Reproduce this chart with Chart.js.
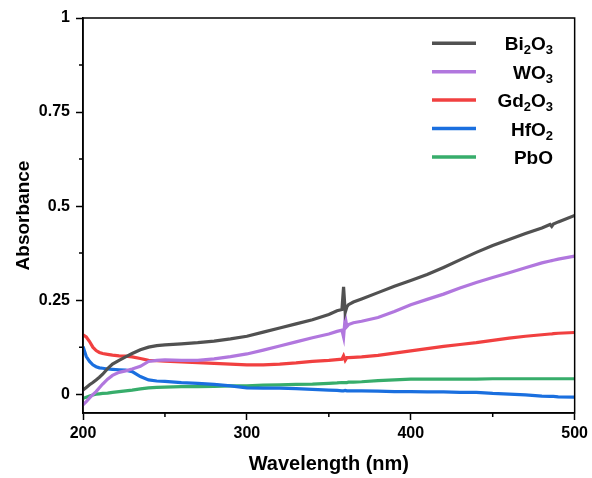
<!DOCTYPE html>
<html><head><meta charset="utf-8">
<script src="https://cdn.jsdelivr.net/npm/chart.js@4"></script>
<style>html,body{margin:0;padding:0;background:#fff;} canvas{display:block;}</style>
</head><body>
<canvas id="c" width="592" height="478"></canvas>
<script>
const wavelengths = [200,202,204,206,208,210,212,215,218,222,226,230,235,240,245,250,260,270,280,290,300,310,320,330,340,350,355,358,359,360,361,362,365,370,380,390,400,410,420,430,440,450,460,470,480,485,486,487,490,500];
const bi2o3 = [0.011,0.018,0.025,0.031,0.038,0.045,0.053,0.068,0.080,0.090,0.099,0.108,0.118,0.125,0.129,0.131,0.134,0.137,0.141,0.147,0.154,0.165,0.176,0.187,0.198,0.212,0.222,0.225,0.285,0.218,0.232,0.238,0.245,0.253,0.270,0.287,0.302,0.318,0.337,0.357,0.377,0.395,0.411,0.427,0.442,0.451,0.446,0.452,0.458,0.475];
const wo3 = [-0.028,-0.020,-0.010,-0.001,0.007,0.017,0.027,0.040,0.050,0.058,0.062,0.067,0.074,0.087,0.090,0.091,0.090,0.090,0.094,0.100,0.107,0.117,0.128,0.139,0.150,0.160,0.167,0.170,0.152,0.205,0.180,0.185,0.190,0.194,0.204,0.220,0.238,0.252,0.266,0.282,0.297,0.310,0.323,0.336,0.349,0.354,0.355,0.356,0.359,0.367];
const gd2o3 = [0.158,0.152,0.140,0.125,0.116,0.111,0.108,0.106,0.104,0.102,0.101,0.099,0.095,0.090,0.089,0.088,0.086,0.084,0.082,0.080,0.078,0.078,0.080,0.083,0.087,0.090,0.092,0.093,0.102,0.090,0.097,0.097,0.098,0.099,0.103,0.109,0.115,0.121,0.127,0.132,0.137,0.143,0.149,0.154,0.158,0.160,0.160,0.161,0.162,0.164];
const hfo2 = [0.127,0.100,0.087,0.078,0.073,0.070,0.069,0.067,0.066,0.065,0.064,0.060,0.047,0.038,0.035,0.034,0.031,0.029,0.026,0.022,0.017,0.016,0.016,0.015,0.013,0.011,0.010,0.009,0.009,0.010,0.009,0.009,0.009,0.009,0.008,0.007,0.007,0.006,0.006,0.005,0.005,0.002,0.000,-0.002,-0.005,-0.006,-0.006,-0.006,-0.007,-0.008];
const pbo = [-0.011,-0.008,-0.005,-0.002,0.000,0.001,0.002,0.003,0.005,0.007,0.009,0.011,0.014,0.017,0.018,0.019,0.020,0.020,0.021,0.022,0.022,0.024,0.025,0.026,0.027,0.029,0.030,0.031,0.031,0.031,0.031,0.032,0.032,0.033,0.036,0.038,0.040,0.040,0.040,0.040,0.040,0.041,0.041,0.041,0.041,0.041,0.041,0.041,0.041,0.041];
const seriesLabels = ['Bi2O3','WO3','Gd2O3','HfO2','PbO'];
const seriesValues = [bi2o3, wo3, gd2o3, hfo2, pbo];
const seriesColors = ['#515151','#B177DE','#F14040','#1A6FDF','#37AD6B'];
const xTicks = [200,300,400,500];
const xMinorTicks = [250,350,450];
const yTicks = [0,0.25,0.5,0.75,1];
const yTickLabels = ['0','0.25','0.5','0.75','1'];
const yMinorTicks = [0.125,0.375,0.625,0.875];

const FONT = '"Liberation Sans", Arial, sans-serif';

const datasets = seriesLabels.map((lab, i) => ({
  label: lab,
  data: wavelengths.map((w, j) => ({x: w, y: seriesValues[i][j]})),
  borderColor: seriesColors[i],
  backgroundColor: seriesColors[i],
  borderWidth: 3.2,
  pointRadius: 0,
  tension: 0,
  fill: false
}));

const framePlugin = {
  id: 'frameLegend',
  afterDraw(chart) {
    const ctx = chart.ctx;
    const a = chart.chartArea;
    const xs = chart.scales.x, ys = chart.scales.y;
    ctx.save();
    ctx.strokeStyle = '#000';
    ctx.lineWidth = 1.5;
    ctx.strokeRect(a.left, a.top, a.right - a.left, a.bottom - a.top);
    ctx.beginPath();
    xMinorTicks.forEach(v => {
      const p = xs.getPixelForValue(v);
      ctx.moveTo(p, a.bottom); ctx.lineTo(p, a.bottom + 4);
    });
    yMinorTicks.forEach(v => {
      const p = ys.getPixelForValue(v);
      ctx.moveTo(a.left - 4, p); ctx.lineTo(a.left, p);
    });
    ctx.stroke();
    // legend
    const rightX = 553, lineX0 = 432, lineX1 = 476, y0 = 43.3, dy = 28.4;
    chart.data.datasets.forEach((ds, i) => {
      const y = y0 + i * dy;
      ctx.strokeStyle = ds.borderColor;
      ctx.lineWidth = 3.5;
      ctx.beginPath(); ctx.moveTo(lineX0, y); ctx.lineTo(lineX1, y); ctx.stroke();
      const segs = [];
      for (const ch of ds.label) {
        const sub = /[0-9]/.test(ch);
        if (segs.length && segs[segs.length-1].sub === sub) segs[segs.length-1].t += ch;
        else segs.push({t: ch, sub});
      }
      let total = 0;
      segs.forEach(s => { ctx.font = 'bold ' + (s.sub ? 13 : 19) + 'px ' + FONT; s.w = ctx.measureText(s.t).width; total += s.w; });
      let x = rightX - total;
      ctx.fillStyle = '#000';
      ctx.textBaseline = 'alphabetic';
      ctx.textAlign = 'left';
      const base = y + 7;
      segs.forEach(s => {
        ctx.font = 'bold ' + (s.sub ? 13 : 19) + 'px ' + FONT;
        ctx.fillText(s.t, x, s.sub ? base + 4 : base);
        x += s.w;
      });
    });
    ctx.restore();
  }
};

new Chart(document.getElementById('c'), {
  type: 'line',
  data: { datasets },
  plugins: [framePlugin],
  options: {
    responsive: false,
    animation: false,
    devicePixelRatio: 1,
    layout: { padding: { left: 0, top: 18, right: 14, bottom: 0 } },
    plugins: { legend: { display: false }, tooltip: { enabled: false } },
    scales: {
      x: {
        type: 'linear', min: 200, max: 500,
        afterBuildTicks: s => { s.ticks = xTicks.map(v => ({value: v})); },
        afterFit: s => { s.height = 65; },
        ticks: { font: { family: FONT, size: 16, weight: 'bold' }, color: '#000', padding: 4, maxRotation: 0, autoSkip: false,
          callback: v => String(v) },
        grid: { display: true, drawOnChartArea: false, drawTicks: true, tickLength: 7, tickWidth: 1.5, tickColor: '#000' },
        border: { display: true, color: '#000', width: 1.5 },
        title: { display: true, text: 'Wavelength (nm)', color: '#000', font: { family: FONT, size: 20, weight: 'bold' }, padding: { top: 0, bottom: 2 } }
      },
      y: {
        type: 'linear', min: -0.05, max: 1,
        afterBuildTicks: s => { s.ticks = yTicks.map(v => ({value: v})); },
        afterFit: s => { s.width = 83; },
        ticks: { font: { family: FONT, size: 16, weight: 'bold' }, color: '#000', padding: 6, autoSkip: false,
          callback: (v) => { const k = yTicks.findIndex(t => Math.abs(t - v) < 1e-9); return k >= 0 ? yTickLabels[k] : ''; } },
        grid: { display: true, drawOnChartArea: false, drawTicks: true, tickLength: 7, tickWidth: 1.5, tickColor: '#000' },
        border: { display: true, color: '#000', width: 1.5 },
        title: { display: true, text: 'Absorbance', color: '#000', font: { family: FONT, size: 19, weight: 'bold' }, padding: { top: 12, bottom: 0 } }
      }
    }
  }
});
</script>
</body></html>
